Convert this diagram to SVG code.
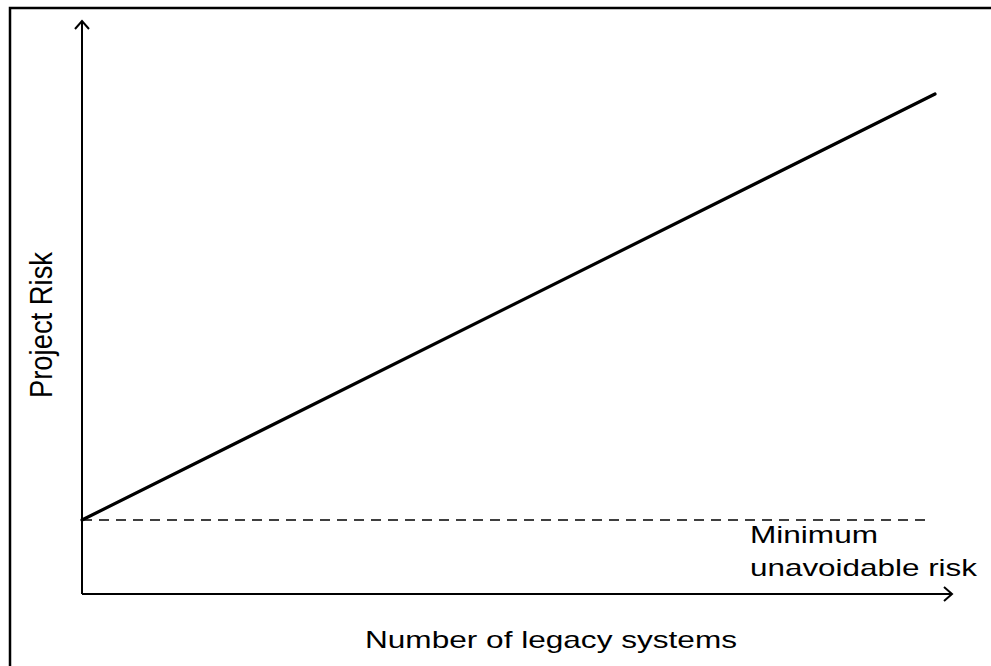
<svg xmlns="http://www.w3.org/2000/svg" width="991" height="666" viewBox="0 0 991 666">
  <style>
    .frame { fill: none; stroke: #000; stroke-width: 2.5; }
    .axis { fill: none; stroke: #000; stroke-width: 2; stroke-linejoin: miter; }
    .trend { fill: none; stroke: #000; stroke-width: 3.2; stroke-linecap: round; }
    .floor { fill: none; stroke: #000; stroke-width: 1.7; stroke-dasharray: 10 7; }
    .label { font-family: "Liberation Sans", Arial, sans-serif; font-size: 24px; fill: #000; }
  </style>
  <defs>
    <marker id="open-arrow" viewBox="-10 -8 12 16" markerWidth="12" markerHeight="16" refX="0" refY="0" orient="auto" markerUnits="userSpaceOnUse">
      <path d="M -8 -7 L 0 0 L -8 7" fill="none" stroke="#000" stroke-width="2"/>
    </marker>
  </defs>

  <rect class="frame" x="10" y="8" width="1000" height="700"/>

  <g id="connectors">
    <!-- y axis -->
    <path id="y-axis" class="axis" d="M 82 594 L 82 21" marker-end="url(#open-arrow)"/>
    <!-- x axis -->
    <path id="x-axis" class="axis" d="M 82 594 L 952 594" marker-end="url(#open-arrow)"/>
    <!-- baseline risk level -->
    <path id="floor-line" class="floor" d="M 82 520 L 930 520"/>
    <!-- risk grows with system count -->
    <path id="trend-line" class="trend" d="M 82 520 L 935 94"/>
  </g>

  <g id="y-label">
    <text class="label" transform="translate(52 398) rotate(-90) scale(1 1.3)" textLength="146" lengthAdjust="spacingAndGlyphs">Project Risk</text>
  </g>

  <g id="x-label">
    <text class="label" x="365" y="648" textLength="372" lengthAdjust="spacingAndGlyphs">Number of legacy systems</text>
  </g>

  <g id="floor-label">
    <text class="label" x="750" y="543" textLength="128" lengthAdjust="spacingAndGlyphs">Minimum</text>
    <text class="label" x="750" y="576" textLength="227" lengthAdjust="spacingAndGlyphs">unavoidable risk</text>
  </g>
</svg>
